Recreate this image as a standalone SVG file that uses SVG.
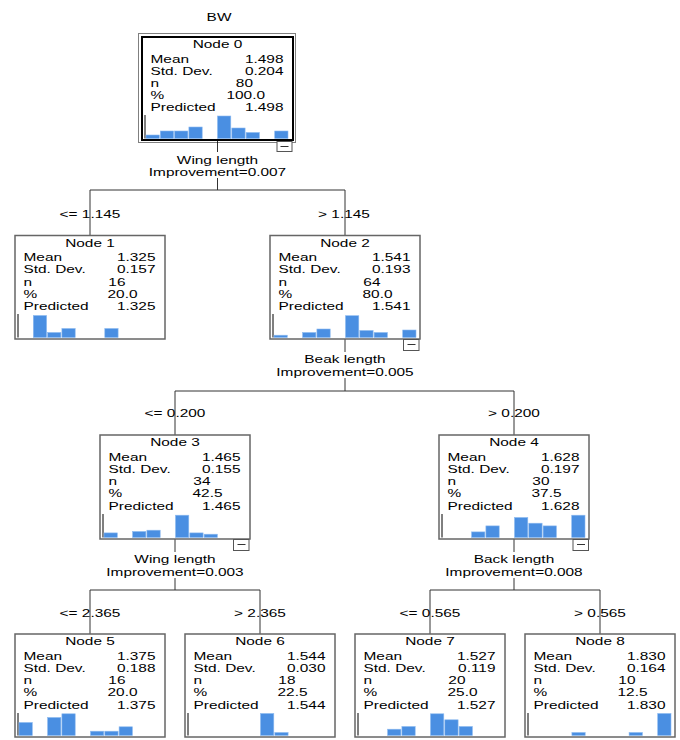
<svg xmlns="http://www.w3.org/2000/svg" width="680" height="740" viewBox="0 0 680 740">
<style>
text{font-family:"Liberation Sans",Arial,sans-serif;font-size:11px;fill:#000}
.m{text-anchor:middle}.e{text-anchor:end}
.box{fill:#fff;stroke:#666;stroke-width:1.5}
.box0{fill:#fff;stroke:#000;stroke-width:2}
.focus{fill:none;stroke:#000;stroke-width:1;stroke-dasharray:1 1}
.ax{stroke:#000;stroke-width:1}
.bar{fill:#4a8fe2;stroke:#8dbaf0;stroke-width:0.6}
.col{fill:#fff;stroke:#555;stroke-width:1}
.ln{stroke:#333;stroke-width:1;fill:none}
</style>
<rect width="680" height="740" fill="#fff"/>
<text class="m" transform="translate(219 20.5) scale(1.4 1)">BW</text>

<g id="connectors">
<path class="ln" d="M217.5 140V152M217.5 178V190M90 190H345M90 190V235.5M345 190V235.5"/>
<path class="ln" d="M345 339V352M345 378V391M175 391H514M175 391V435M514 391V435"/>
<path class="ln" d="M175 539V552M175 578V590M90 590H260M90 590V634M260 590V634"/>
<path class="ln" d="M514 539V552M514 578V590M430 590H600M430 590V634M600 590V634"/>
<text class="m" transform="translate(217.5 163.5) scale(1.4 1)">Wing length</text>
<text class="m" transform="translate(217.5 175.7) scale(1.4 1)">Improvement=0.007</text>
<text class="m" transform="translate(90 217.5) scale(1.4 1)">&lt;= 1.145</text>
<text class="m" transform="translate(344 217.5) scale(1.4 1)">&gt; 1.145</text>
<text class="m" transform="translate(345 363.3) scale(1.4 1)">Beak length</text>
<text class="m" transform="translate(345 375.7) scale(1.4 1)">Improvement=0.005</text>
<text class="m" transform="translate(175 417.3) scale(1.4 1)">&lt;= 0.200</text>
<text class="m" transform="translate(514 417.3) scale(1.4 1)">&gt; 0.200</text>
<text class="m" transform="translate(175 562.7) scale(1.4 1)">Wing length</text>
<text class="m" transform="translate(175 575.7) scale(1.4 1)">Improvement=0.003</text>
<text class="m" transform="translate(514 562.7) scale(1.4 1)">Back length</text>
<text class="m" transform="translate(514 575.7) scale(1.4 1)">Improvement=0.008</text>
<text class="m" transform="translate(90 616.7) scale(1.4 1)">&lt;= 2.365</text>
<text class="m" transform="translate(260 616.7) scale(1.4 1)">&gt; 2.365</text>
<text class="m" transform="translate(430 616.7) scale(1.4 1)">&lt;= 0.565</text>
<text class="m" transform="translate(600 616.7) scale(1.4 1)">&gt; 0.565</text>
</g>

<g id="node0">
<rect class="focus" x="138.5" y="33.5" width="157" height="109"/>
<rect class="box0" x="142" y="37" width="151" height="103"/>
<text class="m" transform="translate(217.5 48) scale(1.4 1)">Node 0</text>
<text transform="translate(150.5 62.5) scale(1.4 1)">Mean</text>
<text transform="translate(150.5 74.5) scale(1.4 1)">Std. Dev.</text>
<text transform="translate(150.5 86.5) scale(1.4 1)">n</text>
<text transform="translate(150.5 98.5) scale(1.4 1)">%</text>
<text transform="translate(150.5 110.5) scale(1.4 1)">Predicted</text>
<text class="e" transform="translate(283.5 62.5) scale(1.4 1)">1.498</text>
<text class="e" transform="translate(283.5 74.5) scale(1.4 1)">0.204</text>
<text class="e" transform="translate(253 86.5) scale(1.4 1)">80</text>
<text class="e" transform="translate(265 98.5) scale(1.4 1)">100.0</text>
<text class="e" transform="translate(283.5 110.5) scale(1.4 1)">1.498</text>
<line class="ax" x1="145" y1="115" x2="145" y2="138.5"/>
<rect class="bar" x="146" y="135" width="13.3" height="3.5"/>
<rect class="bar" x="160.3" y="131" width="13.3" height="7.5"/>
<rect class="bar" x="174.6" y="131" width="13.3" height="7.5"/>
<rect class="bar" x="188.9" y="127" width="13.3" height="11.5"/>
<rect class="bar" x="217.5" y="116" width="13.3" height="22.5"/>
<rect class="bar" x="231.8" y="128" width="13.3" height="10.5"/>
<rect class="bar" x="246.1" y="132.5" width="13.3" height="6"/>
<rect class="bar" x="274.7" y="131" width="13.3" height="7.5"/>
<rect class="col" x="277" y="141.5" width="15" height="10"/>
<line class="ln" x1="280.5" y1="146.5" x2="288.5" y2="146.5"/>
</g>

<g id="node1">
<rect class="box" x="15" y="235.5" width="150" height="103.5"/>
<text class="m" transform="translate(90 246.5) scale(1.4 1)">Node 1</text>
<text transform="translate(23.5 261.2) scale(1.4 1)">Mean</text>
<text transform="translate(23.5 273.4) scale(1.4 1)">Std. Dev.</text>
<text transform="translate(23.5 285.6) scale(1.4 1)">n</text>
<text transform="translate(23.5 297.8) scale(1.4 1)">%</text>
<text transform="translate(23.5 310) scale(1.4 1)">Predicted</text>
<text class="e" transform="translate(155.5 261.2) scale(1.4 1)">1.325</text>
<text class="e" transform="translate(155.5 273.4) scale(1.4 1)">0.157</text>
<text class="e" transform="translate(125.5 285.6) scale(1.4 1)">16</text>
<text class="e" transform="translate(137.5 297.8) scale(1.4 1)">20.0</text>
<text class="e" transform="translate(155.5 310) scale(1.4 1)">1.325</text>
<line class="ax" x1="18" y1="314" x2="18" y2="337.5"/>
<rect class="bar" x="33.3" y="315.5" width="13.3" height="22"/>
<rect class="bar" x="47.6" y="332.5" width="13.3" height="5"/>
<rect class="bar" x="61.9" y="328.5" width="13.3" height="9"/>
<rect class="bar" x="104.8" y="328.5" width="13.3" height="9"/>
</g>

<g id="node2">
<rect class="box" x="270" y="235.5" width="150" height="103.5"/>
<text class="m" transform="translate(345 246.5) scale(1.4 1)">Node 2</text>
<text transform="translate(278.5 261.2) scale(1.4 1)">Mean</text>
<text transform="translate(278.5 273.4) scale(1.4 1)">Std. Dev.</text>
<text transform="translate(278.5 285.6) scale(1.4 1)">n</text>
<text transform="translate(278.5 297.8) scale(1.4 1)">%</text>
<text transform="translate(278.5 310) scale(1.4 1)">Predicted</text>
<text class="e" transform="translate(410.5 261.2) scale(1.4 1)">1.541</text>
<text class="e" transform="translate(410.5 273.4) scale(1.4 1)">0.193</text>
<text class="e" transform="translate(380.5 285.6) scale(1.4 1)">64</text>
<text class="e" transform="translate(392.5 297.8) scale(1.4 1)">80.0</text>
<text class="e" transform="translate(410.5 310) scale(1.4 1)">1.541</text>
<line class="ax" x1="273" y1="314" x2="273" y2="337.5"/>
<rect class="bar" x="274" y="335.2" width="13.3" height="2.3"/>
<rect class="bar" x="302.6" y="332.5" width="13.3" height="5"/>
<rect class="bar" x="316.9" y="329" width="13.3" height="8.5"/>
<rect class="bar" x="345.5" y="315.7" width="13.3" height="21.8"/>
<rect class="bar" x="359.8" y="330.5" width="13.3" height="7"/>
<rect class="bar" x="374.1" y="332.5" width="13.3" height="5"/>
<rect class="bar" x="402.7" y="330" width="13.3" height="7.5"/>
<rect class="col" x="403.5" y="339.5" width="15.5" height="11"/>
<line class="ln" x1="407.5" y1="344.5" x2="415.5" y2="344.5"/>
</g>

<g id="node3">
<rect class="box" x="100" y="435" width="150" height="104"/>
<text class="m" transform="translate(175 446) scale(1.4 1)">Node 3</text>
<text transform="translate(108.5 460.7) scale(1.4 1)">Mean</text>
<text transform="translate(108.5 472.9) scale(1.4 1)">Std. Dev.</text>
<text transform="translate(108.5 485.1) scale(1.4 1)">n</text>
<text transform="translate(108.5 497.3) scale(1.4 1)">%</text>
<text transform="translate(108.5 509.5) scale(1.4 1)">Predicted</text>
<text class="e" transform="translate(240.5 460.7) scale(1.4 1)">1.465</text>
<text class="e" transform="translate(240.5 472.9) scale(1.4 1)">0.155</text>
<text class="e" transform="translate(210.5 485.1) scale(1.4 1)">34</text>
<text class="e" transform="translate(222.5 497.3) scale(1.4 1)">42.5</text>
<text class="e" transform="translate(240.5 509.5) scale(1.4 1)">1.465</text>
<line class="ax" x1="103" y1="514" x2="103" y2="537.5"/>
<rect class="bar" x="104" y="532.9" width="13.3" height="4.6"/>
<rect class="bar" x="132.6" y="531.5" width="13.3" height="6"/>
<rect class="bar" x="146.9" y="530.2" width="13.3" height="7.3"/>
<rect class="bar" x="175.5" y="515.2" width="13.3" height="22.3"/>
<rect class="bar" x="189.8" y="532.9" width="13.3" height="4.6"/>
<rect class="bar" x="204.1" y="534.2" width="13.3" height="3.3"/>
<rect class="col" x="233.5" y="539.5" width="15.5" height="11"/>
<line class="ln" x1="237.5" y1="544.5" x2="245.5" y2="544.5"/>
</g>

<g id="node4">
<rect class="box" x="439" y="435" width="150" height="104"/>
<text class="m" transform="translate(514 446) scale(1.4 1)">Node 4</text>
<text transform="translate(447.5 460.7) scale(1.4 1)">Mean</text>
<text transform="translate(447.5 472.9) scale(1.4 1)">Std. Dev.</text>
<text transform="translate(447.5 485.1) scale(1.4 1)">n</text>
<text transform="translate(447.5 497.3) scale(1.4 1)">%</text>
<text transform="translate(447.5 509.5) scale(1.4 1)">Predicted</text>
<text class="e" transform="translate(579.5 460.7) scale(1.4 1)">1.628</text>
<text class="e" transform="translate(579.5 472.9) scale(1.4 1)">0.197</text>
<text class="e" transform="translate(549.5 485.1) scale(1.4 1)">30</text>
<text class="e" transform="translate(561.5 497.3) scale(1.4 1)">37.5</text>
<text class="e" transform="translate(579.5 509.5) scale(1.4 1)">1.628</text>
<line class="ax" x1="442" y1="514" x2="442" y2="537.5"/>
<rect class="bar" x="471.6" y="531.9" width="13.3" height="5.6"/>
<rect class="bar" x="485.9" y="525.9" width="13.3" height="11.6"/>
<rect class="bar" x="514.5" y="517.5" width="13.3" height="20"/>
<rect class="bar" x="528.8" y="523.2" width="13.3" height="14.3"/>
<rect class="bar" x="543.1" y="525.9" width="13.3" height="11.6"/>
<rect class="bar" x="571.7" y="515.2" width="13.3" height="22.3"/>
<rect class="col" x="573" y="539.5" width="15.5" height="11"/>
<line class="ln" x1="577" y1="544.5" x2="585" y2="544.5"/>
</g>

<g id="node5">
<rect class="box" x="15" y="634" width="150" height="103"/>
<text class="m" transform="translate(90 645) scale(1.4 1)">Node 5</text>
<text transform="translate(23.5 659.7) scale(1.4 1)">Mean</text>
<text transform="translate(23.5 671.9) scale(1.4 1)">Std. Dev.</text>
<text transform="translate(23.5 684.1) scale(1.4 1)">n</text>
<text transform="translate(23.5 696.3) scale(1.4 1)">%</text>
<text transform="translate(23.5 708.5) scale(1.4 1)">Predicted</text>
<text class="e" transform="translate(155.5 659.7) scale(1.4 1)">1.375</text>
<text class="e" transform="translate(155.5 671.9) scale(1.4 1)">0.188</text>
<text class="e" transform="translate(125.5 684.1) scale(1.4 1)">16</text>
<text class="e" transform="translate(137.5 696.3) scale(1.4 1)">20.0</text>
<text class="e" transform="translate(155.5 708.5) scale(1.4 1)">1.375</text>
<line class="ax" x1="18" y1="713" x2="18" y2="735.5"/>
<rect class="bar" x="19" y="722.5" width="13.3" height="13"/>
<rect class="bar" x="47.6" y="717.5" width="13.3" height="18"/>
<rect class="bar" x="61.9" y="713.8" width="13.3" height="21.7"/>
<rect class="bar" x="90.5" y="731.2" width="13.3" height="4.3"/>
<rect class="bar" x="104.8" y="731.2" width="13.3" height="4.3"/>
<rect class="bar" x="119.1" y="726.8" width="13.3" height="8.7"/>
</g>

<g id="node6">
<rect class="box" x="185" y="634" width="150" height="103"/>
<text class="m" transform="translate(260 645) scale(1.4 1)">Node 6</text>
<text transform="translate(193.5 659.7) scale(1.4 1)">Mean</text>
<text transform="translate(193.5 671.9) scale(1.4 1)">Std. Dev.</text>
<text transform="translate(193.5 684.1) scale(1.4 1)">n</text>
<text transform="translate(193.5 696.3) scale(1.4 1)">%</text>
<text transform="translate(193.5 708.5) scale(1.4 1)">Predicted</text>
<text class="e" transform="translate(325.5 659.7) scale(1.4 1)">1.544</text>
<text class="e" transform="translate(325.5 671.9) scale(1.4 1)">0.030</text>
<text class="e" transform="translate(295.5 684.1) scale(1.4 1)">18</text>
<text class="e" transform="translate(307.5 696.3) scale(1.4 1)">22.5</text>
<text class="e" transform="translate(325.5 708.5) scale(1.4 1)">1.544</text>
<line class="ax" x1="188" y1="713" x2="188" y2="735.5"/>
<rect class="bar" x="260.5" y="713.5" width="13.3" height="22"/>
<rect class="bar" x="274.8" y="732.5" width="13.3" height="3"/>
</g>

<g id="node7">
<rect class="box" x="355" y="634" width="150" height="103"/>
<text class="m" transform="translate(430 645) scale(1.4 1)">Node 7</text>
<text transform="translate(363.5 659.7) scale(1.4 1)">Mean</text>
<text transform="translate(363.5 671.9) scale(1.4 1)">Std. Dev.</text>
<text transform="translate(363.5 684.1) scale(1.4 1)">n</text>
<text transform="translate(363.5 696.3) scale(1.4 1)">%</text>
<text transform="translate(363.5 708.5) scale(1.4 1)">Predicted</text>
<text class="e" transform="translate(495.5 659.7) scale(1.4 1)">1.527</text>
<text class="e" transform="translate(495.5 671.9) scale(1.4 1)">0.119</text>
<text class="e" transform="translate(465.5 684.1) scale(1.4 1)">20</text>
<text class="e" transform="translate(477.5 696.3) scale(1.4 1)">25.0</text>
<text class="e" transform="translate(495.5 708.5) scale(1.4 1)">1.527</text>
<line class="ax" x1="358" y1="713" x2="358" y2="735.5"/>
<rect class="bar" x="387.6" y="729.2" width="13.3" height="6.3"/>
<rect class="bar" x="401.9" y="726.5" width="13.3" height="9"/>
<rect class="bar" x="430.5" y="713.8" width="13.3" height="21.7"/>
<rect class="bar" x="444.8" y="719.8" width="13.3" height="15.7"/>
<rect class="bar" x="459.1" y="726.5" width="13.3" height="9"/>
</g>

<g id="node8">
<rect class="box" x="525" y="634" width="150" height="103"/>
<text class="m" transform="translate(600 645) scale(1.4 1)">Node 8</text>
<text transform="translate(533.5 659.7) scale(1.4 1)">Mean</text>
<text transform="translate(533.5 671.9) scale(1.4 1)">Std. Dev.</text>
<text transform="translate(533.5 684.1) scale(1.4 1)">n</text>
<text transform="translate(533.5 696.3) scale(1.4 1)">%</text>
<text transform="translate(533.5 708.5) scale(1.4 1)">Predicted</text>
<text class="e" transform="translate(665.5 659.7) scale(1.4 1)">1.830</text>
<text class="e" transform="translate(665.5 671.9) scale(1.4 1)">0.164</text>
<text class="e" transform="translate(635.5 684.1) scale(1.4 1)">10</text>
<text class="e" transform="translate(647.5 696.3) scale(1.4 1)">12.5</text>
<text class="e" transform="translate(665.5 708.5) scale(1.4 1)">1.830</text>
<line class="ax" x1="528" y1="713" x2="528" y2="735.5"/>
<rect class="bar" x="571.9" y="732.5" width="13.3" height="3"/>
<rect class="bar" x="629.1" y="732.5" width="13.3" height="3"/>
<rect class="bar" x="657.7" y="713.5" width="13.3" height="22"/>
</g>
</svg>
